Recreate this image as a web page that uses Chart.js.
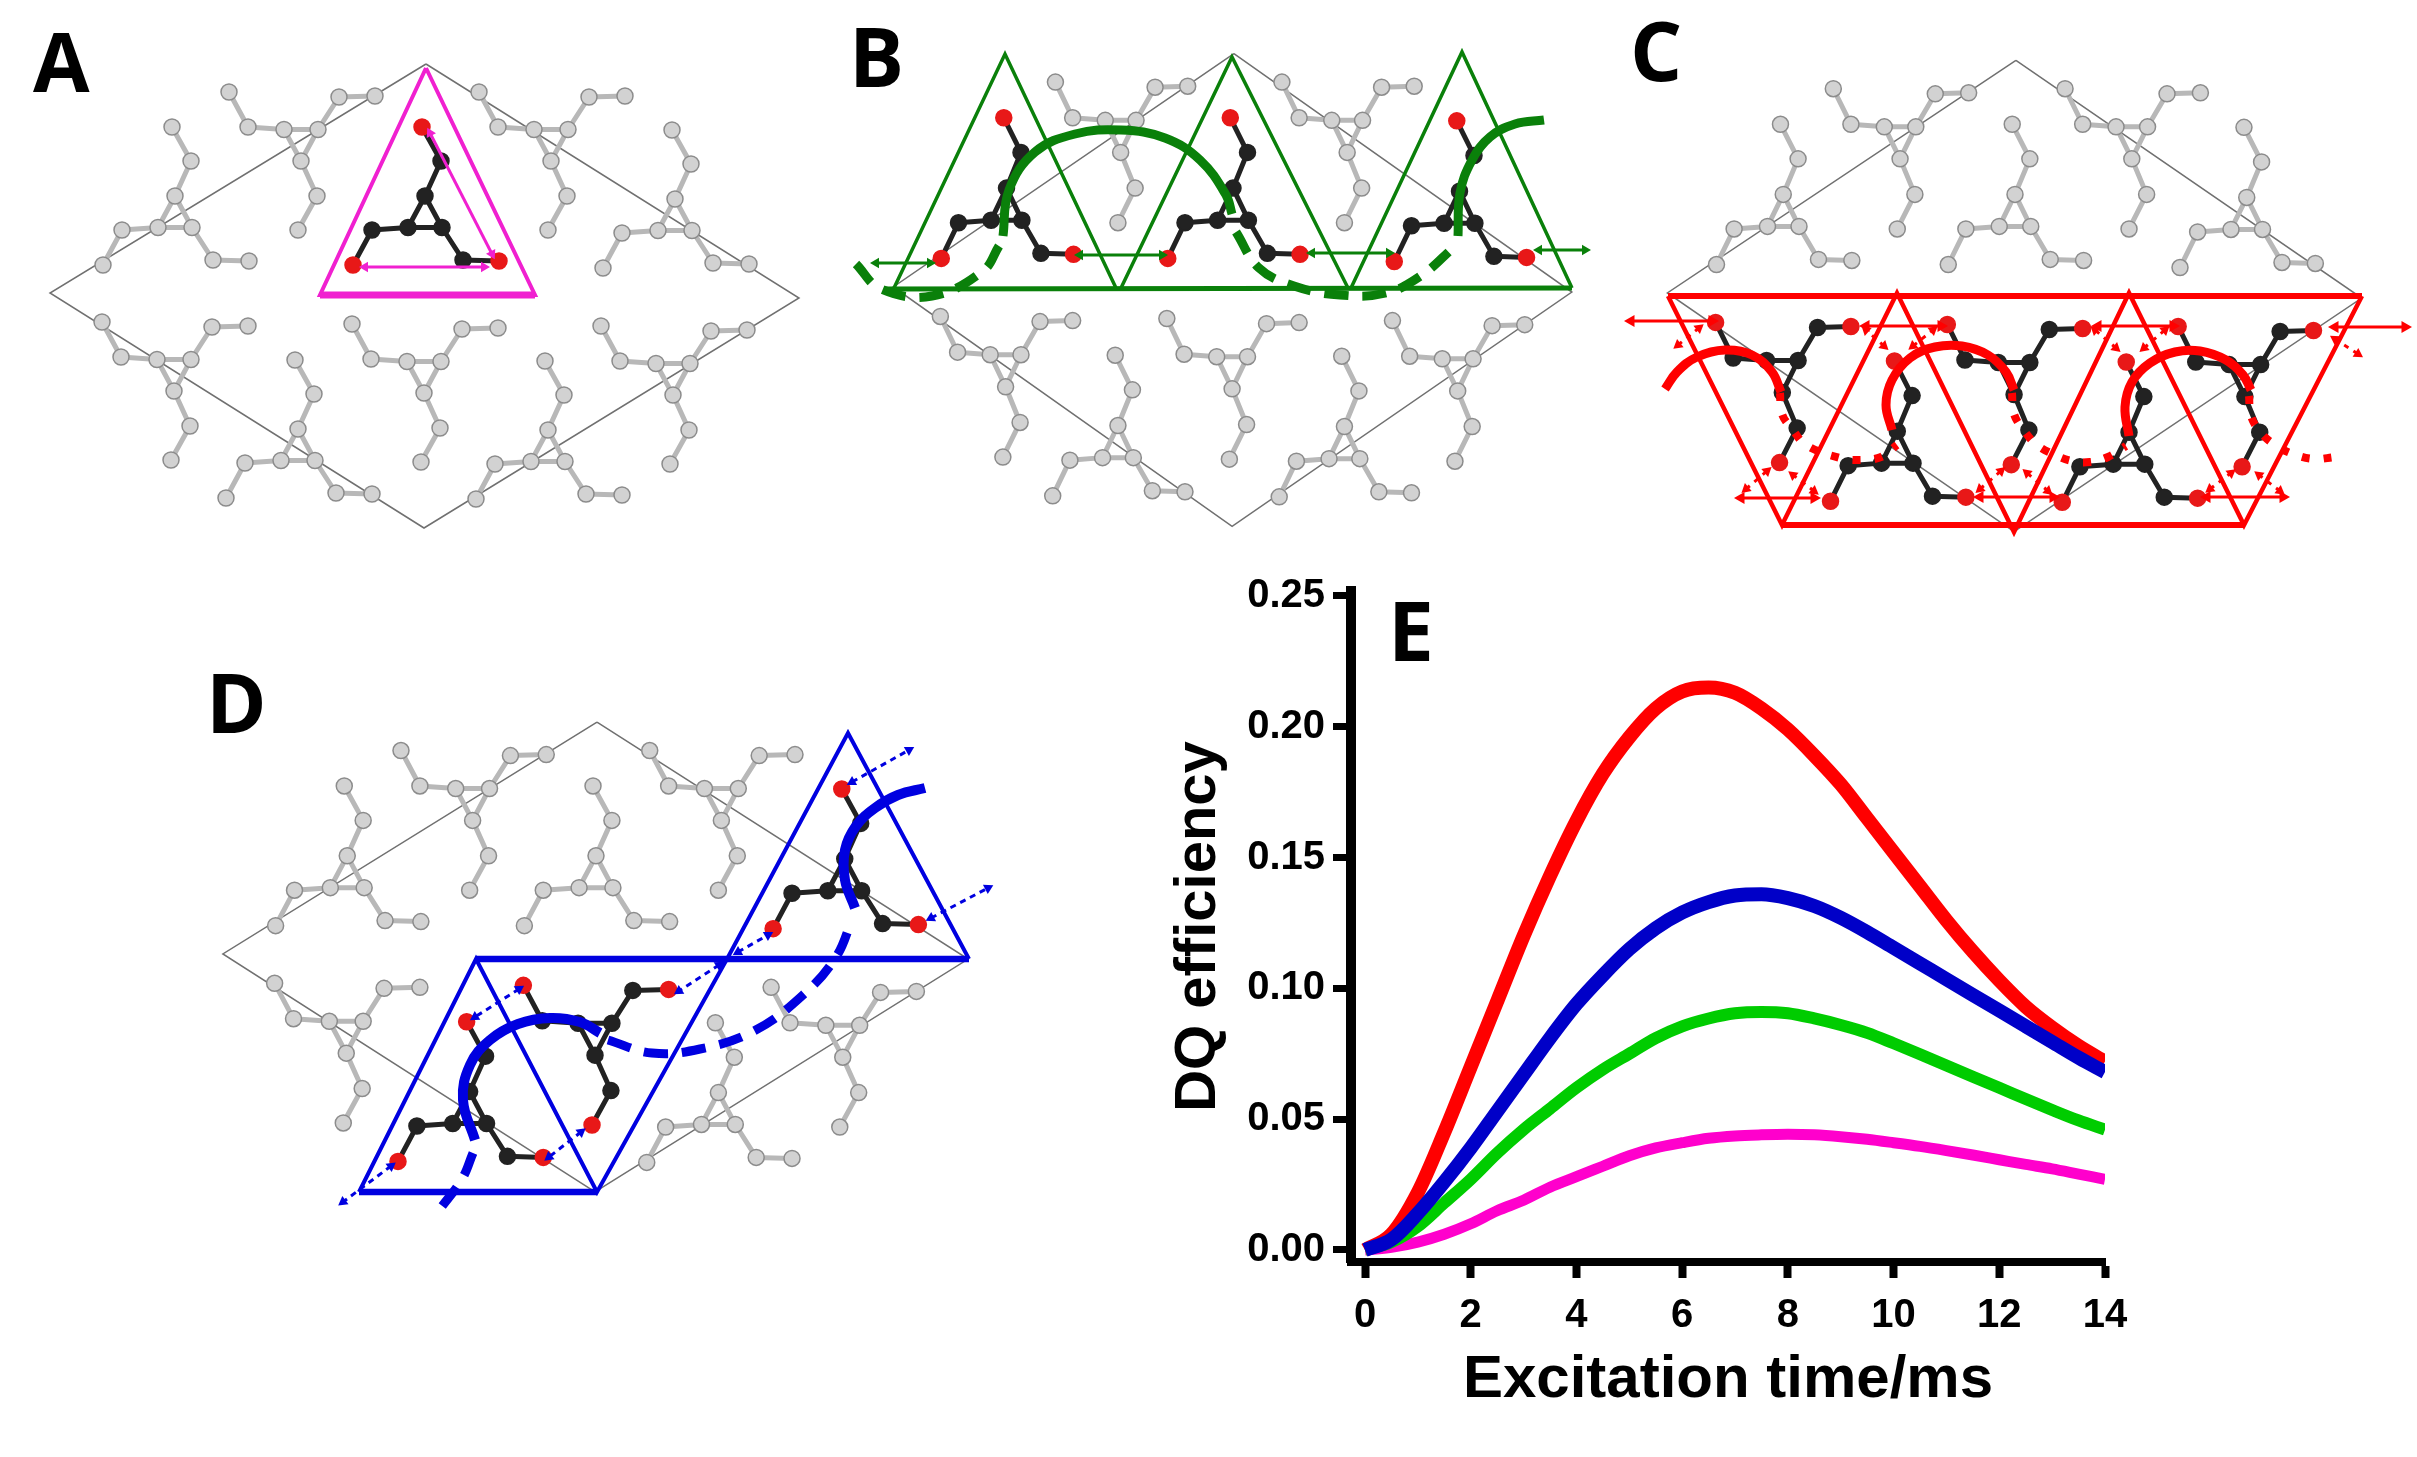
<!DOCTYPE html>
<html>
<head>
<meta charset="utf-8">
<title>DQ efficiency</title>
<script src="https://cdn.jsdelivr.net/npm/chart.js@4/dist/chart.umd.min.js"></script>
<style>
    html, body { margin: 0; padding: 0; background: #fff; overflow: hidden; }
    canvas { position: absolute; }
    .lettre { position: absolute; font: bold 82px "Open Sans", sans-serif; line-height: 82px; color: #000; }
</style>
</head>
<body>
<canvas id="schemas" width="2417" height="1457" style="left:0;top:0"></canvas>
<canvas id="courbes" width="1000" height="887" style="left:1130px;top:570px"></canvas>
<div class="lettre" style="left:33px;top:19px">A</div>
<div class="lettre" style="left:849px;top:14px">B</div>
<div class="lettre" style="left:1630px;top:8px">C</div>
<div class="lettre" style="left:206px;top:660px">D</div>
<div class="lettre" style="left:1388px;top:588px">E</div>
<script>
// DONNEES DU GRAPHIQUE E
const temps = [0, 0.5, 1, 1.5, 2, 2.5, 3, 3.5, 4, 4.5, 5, 5.5, 6, 6.5, 7, 7.5, 8, 8.5, 9, 9.5, 10, 10.5, 11, 11.5, 12, 12.5, 13, 13.5, 14];
const rouge = [0, 0.006, 0.022, 0.045, 0.070, 0.095, 0.120, 0.143, 0.164, 0.182, 0.196, 0.207, 0.2135, 0.215, 0.213, 0.207, 0.199, 0.189, 0.178, 0.165, 0.152, 0.139, 0.126, 0.114, 0.103, 0.093, 0.085, 0.078, 0.072];
const bleu = [0, 0.004, 0.014, 0.026, 0.039, 0.053, 0.067, 0.081, 0.094, 0.105, 0.115, 0.123, 0.129, 0.133, 0.1355, 0.136, 0.1345, 0.1315, 0.127, 0.1215, 0.1155, 0.1095, 0.1035, 0.0975, 0.0915, 0.0855, 0.0795, 0.0735, 0.068];
const vert = [0, 0.003, 0.009, 0.018, 0.027, 0.037, 0.046, 0.054, 0.062, 0.069, 0.075, 0.081, 0.0855, 0.0885, 0.0905, 0.091, 0.0905, 0.0885, 0.086, 0.083, 0.079, 0.0748, 0.0705, 0.0662, 0.062, 0.0577, 0.0535, 0.0495, 0.046];
const magenta = [0, 0.001, 0.003, 0.006, 0.010, 0.015, 0.019, 0.024, 0.028, 0.032, 0.036, 0.039, 0.041, 0.0427, 0.0436, 0.044, 0.0442, 0.044, 0.0433, 0.0423, 0.041, 0.0396, 0.038, 0.0363, 0.0345, 0.0327, 0.031, 0.029, 0.027];
const ticksX = [0, 2, 4, 6, 8, 10, 12, 14];
const ticksY = [0, 0.05, 0.10, 0.15, 0.20, 0.25];

// MOLECULE ET MAILLE DES SCHEMAS A-D (reperes sur le schema A)
const atomes = [[-3, -69, 'O'], [16, -35, 'C'], [0, 0, 'C'], [17, 31.5, 'C'], [-17, 31.5, 'C'], [-53, 34, 'C'], [-72, 69, 'O'], [38, 64, 'C'], [74, 65, 'O']];
const liaisons = [[0, 1], [1, 2], [2, 3], [2, 4], [3, 4], [4, 5], [5, 6], [3, 7], [7, 8]];
const maille = [[426, 64], [50, 293], [424, 528], [799, 298], [426, 64]];
const moleculesHaut = [[175, 196], [425, 196], [675, 199], [298, 429], [548, 430]];
const moleculesBas = [[301, 161], [551, 161], [174, 391], [424, 393], [673, 395]];

// TRACES COLORES DES SCHEMAS
const triangleA = [[426, 68], [320, 295], [535, 295], [426, 68]];
const flechesA = [[[430, 133], [492, 254]], [[365, 267], [484, 267]]];

const trianglesB = [[[894, 288], [1005, 54], [1116, 288]], [[1121, 288], [1232, 57], [1348, 288]], [[1351, 288], [1462, 52], [1572, 288]]];
const baseB = [[884, 289], [1572, 288]];
const arcsPleinsB = [[[1003, 236], [1009, 190], [1035, 152], [1075, 134], [1121, 130], [1165, 138], [1200, 160], [1226, 195], [1232, 214]], [[1458, 236], [1460, 193], [1472, 160], [1490, 137], [1515, 124], [1544, 120]]];
const arcsTiretsB = [[[999, 246], [983, 271], [932, 296], [881, 289], [856, 264]], [[1236, 232], [1259, 268], [1294, 286], [1340, 295], [1386, 293], [1422, 275], [1453, 248]]];
const flechesB = [[[876, 263], [930, 263]], [[1080, 255], [1162, 255]], [[1312, 253], [1389, 253]], [[1539, 250], [1585, 250]]];

const zigzagC = [[1668, 296], [1782, 525], [1897, 293], [2014, 532], [2129, 293], [2244, 525], [2362, 296]];
const basesC = [[[1668, 296], [2362, 296]], [[1782, 525], [2244, 525]]];
const arcsPleinsC = [[[1665, 389], [1677, 372], [1697, 357], [1725, 350], [1752, 355], [1772, 372], [1781, 392]], [[1892, 430], [1886, 405], [1892, 380], [1910, 358], [1935, 347], [1962, 346], [1988, 355], [2006, 372], [2014, 390]], [[2129, 436], [2125, 407], [2132, 382], [2150, 363], [2175, 352], [2200, 351], [2226, 360], [2243, 375], [2251, 390]]];
const arcsPointsC = [[[1780, 393], [1782, 414], [1793, 430], [1806, 445], [1840, 458], [1860, 460], [1881, 457], [1897, 445]], [[2012, 393], [2014, 414], [2025, 432], [2037, 445], [2053, 454], [2072, 461], [2090, 462], [2108, 457], [2126, 446]], [[2249, 396], [2251, 416], [2262, 434], [2277, 446], [2293, 454], [2314, 459], [2335, 457]]];
const flechesC = [[[1631, 321], [1712, 321]], [[1866, 326], [1941, 326]], [[2098, 326], [2173, 326]], [[2335, 327], [2405, 327]], [[1741, 498], [1814, 498]], [[1980, 497], [2053, 497]], [[2207, 497], [2283, 497]]];
const flechesCourtesC = [[[1678, 345], [1699, 328]], [[1884, 346], [1866, 330]], [[1913, 346], [1933, 330]], [[2116, 348], [2095, 330]], [[2144, 348], [2165, 330]], [[2335, 339], [2358, 354]], [[1746, 489], [1767, 471]], [[1814, 491], [1793, 475]], [[1980, 489], [2001, 471]], [[2048, 491], [2027, 473]], [[2210, 489], [2231, 473]], [[2280, 491], [2259, 475]]];

const trianglesD = [[[727, 959], [848, 733], [969, 959]], [[359, 1192], [476, 959], [597, 1192], [727, 959]]];
const basesD = [[[476, 959], [969, 959]], [[359, 1192], [597, 1192]]];
const arcsPleinsD = [[[475, 1140], [463, 1100], [470, 1065], [490, 1040], [518, 1024], [550, 1018], [580, 1022], [600, 1033]], [[855, 908], [845, 880], [845, 850], [856, 826], [875, 808], [898, 795], [925, 788]]];
const arcsTiretsD = [[[473, 1153], [462, 1179], [440, 1209]], [[608, 1040], [652, 1053], [700, 1049], [754, 1031], [803, 995], [836, 957], [852, 920]]];
const flechesD = [[[852, 782], [909, 750]], [[931, 918], [988, 888]], [[738, 952], [768, 935]], [[719, 965], [679, 991]], [[519, 989], [475, 1017]], [[581, 1132], [549, 1157]], [[391, 1166], [343, 1202]]];

// Chaque schema : centre de la maille, echelles, molecules en noir
const schemaA = { cx: 425, cy: 296, sx: 1, sy: 1, noirHaut: [1], noirBas: [] };
const schemaB = { cx: 1233, cy: 290, sx: 0.906, sy: 1.019, noirHaut: [0, 1, 2], noirBas: [] };
const schemaC = { cx: 2015, cy: 296, sx: 0.927, sy: 1.016, noirHaut: [3, 4], noirBas: [2, 3, 4] };
const schemaD = { cx: 596, cy: 957, sx: 0.995, sy: 1.012, noirHaut: [2, 3], noirBas: [3] };

const jeux = [];

function points(liste) {
    return liste.map(p => ({ x: p[0], y: p[1] }));
}

// Un trait simple (ou courbe si tension > 0)
function trait(liste, couleur, largeur, tension, tirets) {
    jeux.push({
        type: 'scatter', data: points(liste), showLine: true, borderColor: couleur, borderWidth: largeur,
        tension: tension || 0, borderDash: tirets || [], pointRadius: 0, borderCapStyle: 'butt', borderJoinStyle: 'miter', clip: false
    });
}

// Une fleche double : trait + deux triangles orientes
function fleche(f, couleur, largeur, taille, tirets) {
    const angle = Math.atan2(f[1][1] - f[0][1], f[1][0] - f[0][0]) * 180 / Math.PI + 90;
    jeux.push({
        type: 'scatter', data: points(f), showLine: true, borderColor: couleur, borderWidth: largeur, borderDash: tirets || [],
        pointStyle: 'triangle', pointRadius: taille, pointRotation: [angle + 180, angle],
        pointBackgroundColor: couleur, pointBorderColor: couleur, pointBorderWidth: 0, clip: false
    });
}

function moleculeDessin(s, centre, sens, noir) {
    const pos = atomes.map(a => [s.cx + (centre[0] - 425 + a[0]) * s.sx, s.cy + (centre[1] - 296 + sens * a[1]) * s.sy, a[2]]);
    // liaisons, coupees par des NaN
    const segments = [];
    liaisons.forEach(l => {
        segments.push(pos[l[0]], pos[l[1]], [NaN, NaN]);
    });
    trait(segments, noir ? '#222222' : '#b8b8b8', noir ? 5 : 5);
    const couleurs = pos.map(p => noir ? (p[2] === 'O' ? '#e81818' : '#222222') : '#d2d2d2');
    jeux.push({
        type: 'scatter', data: points(pos), showLine: false, pointRadius: 8,
        pointBackgroundColor: couleurs, pointBorderColor: noir ? couleurs : '#8c8c8c', pointBorderWidth: 1.5, clip: false
    });
}

function schemaDessin(s) {
    trait(maille.map(p => [s.cx + (p[0] - 425) * s.sx, s.cy + (p[1] - 296) * s.sy]), '#707070', 1.5);
    moleculesHaut.forEach((m, i) => moleculeDessin(s, m, 1, s.noirHaut.includes(i)));
    moleculesBas.forEach((m, i) => moleculeDessin(s, m, -1, s.noirBas.includes(i)));
}

[schemaA, schemaB, schemaC, schemaD].forEach(schemaDessin);

// Schema A (magenta)
trait(triangleA, '#f020d0', 4);
trait(triangleA.slice(1, 3), '#f020d0', 7);
flechesA.forEach(f => fleche(f, '#f020d0', 3, 6));

// Schema B (vert)
trianglesB.forEach(t => trait(t, '#0a800a', 3.5));
trait(baseB, '#0a800a', 5);
arcsPleinsB.forEach(a => trait(a, '#0a800a', 9, 0.4));
arcsTiretsB.forEach(a => trait(a, '#0a800a', 9, 0.4, [24, 14]));
flechesB.forEach(f => fleche(f, '#0a800a', 3, 6));

// Schema C (rouge)
trait(zigzagC, '#ff0000', 4.5);
basesC.forEach(b => trait(b, '#ff0000', 6));
arcsPleinsC.forEach(a => trait(a, '#ff0000', 9, 0.4));
arcsPointsC.forEach(a => trait(a, '#ff0000', 8, 0.4, [8, 14]));
flechesC.forEach(f => fleche(f, '#ff0000', 3, 7));
flechesCourtesC.forEach(f => fleche(f, '#ff0000', 3, 6, [5, 6]));

// Schema D (bleu)
trianglesD.forEach(t => trait(t, '#0000e0', 4));
basesD.forEach(b => trait(b, '#0000e0', 6.5));
arcsPleinsD.forEach(a => trait(a, '#0000e0', 10, 0.4));
arcsTiretsD.forEach(a => trait(a, '#0000e0', 9, 0.4, [24, 14]));
flechesD.forEach(f => fleche(f, '#0000e0', 3, 6, [6, 5]));

// Le premier jeu est dessine au-dessus : on inverse pour garder l'ordre ci-dessus
jeux.reverse();

const axeCache = { display: false };
new Chart(document.getElementById('schemas').getContext('2d'), {
    type: 'scatter',
    data: { datasets: jeux },
    options: {
        responsive: false, animation: false, devicePixelRatio: 1,
        layout: { padding: 0, autoPadding: false },
        plugins: { legend: { display: false }, tooltip: { enabled: false } },
        scales: {
            x: { type: 'linear', min: 0, max: 2417, ...axeCache },
            y: { type: 'linear', min: 0, max: 1457, reverse: true, ...axeCache }
        }
    }
});

function serie(valeurs, couleur, largeur) {
    return {
        data: temps.map((t, i) => ({ x: t, y: valeurs[i] })),
        borderColor: couleur, borderWidth: largeur, pointRadius: 0,
        cubicInterpolationMode: 'monotone', showLine: true, clip: 0, borderCapStyle: 'butt'
    };
}

const policeTicks = { family: '"Liberation Sans", Arial, sans-serif', size: 40, weight: 'bold' };
const policeTitreX = { family: '"Liberation Sans", Arial, sans-serif', size: 60, weight: 'bold', lineHeight: 1 };
const policeTitreY = { family: '"Liberation Sans", Arial, sans-serif', size: 58, weight: 'bold', lineHeight: 1 };

new Chart(document.getElementById('courbes').getContext('2d'), {
    type: 'scatter',
    data: {
        datasets: [
            serie(bleu, '#0000c8', 14),
            serie(rouge, '#ff0000', 14),
            serie(vert, '#00cc00', 12),
            serie(magenta, '#ff00cc', 11)
        ]
    },
    options: {
        responsive: false, animation: false, devicePixelRatio: 1,
        layout: { padding: { left: 0, right: 25, top: 21, bottom: 0 }, autoPadding: false },
        plugins: { legend: { display: false }, tooltip: { enabled: false } },
        scales: {
            x: {
                type: 'linear', min: -0.265, max: 14,
                afterBuildTicks: axe => { axe.ticks = ticksX.map(v => ({ value: v })); },
                afterFit: axe => { axe.height = 195; axe.paddingLeft = 0; axe.paddingRight = 0; },
                grid: { drawOnChartArea: false, drawTicks: true, tickLength: 16, tickWidth: 8, tickColor: '#000' },
                border: { display: true, color: '#000', width: 8 },
                ticks: { color: '#000', font: policeTicks, padding: 14, autoSkip: false, maxRotation: 0, callback: v => String(v) },
                title: { display: true, text: 'Excitation time/ms', color: '#000', font: policeTitreX, padding: { top: 47, bottom: 47 } }
            },
            y: {
                type: 'linear', min: -0.0046, max: 0.2519,
                afterBuildTicks: axe => { axe.ticks = ticksY.map(v => ({ value: v })); },
                afterFit: axe => { axe.width = 221; axe.paddingTop = 0; axe.paddingBottom = 0; },
                grid: { drawOnChartArea: false, drawTicks: true, tickLength: 18, tickWidth: 7, tickColor: '#000' },
                border: { display: true, color: '#000', width: 10 },
                ticks: { color: '#000', font: policeTicks, padding: 8, autoSkip: false, callback: v => v.toFixed(2) },
                title: { display: true, text: 'DQ efficiency', color: '#000', font: policeTitreY, padding: { top: 40, bottom: 0 } }
            }
        }
    }
});
</script>
</body>
</html>
